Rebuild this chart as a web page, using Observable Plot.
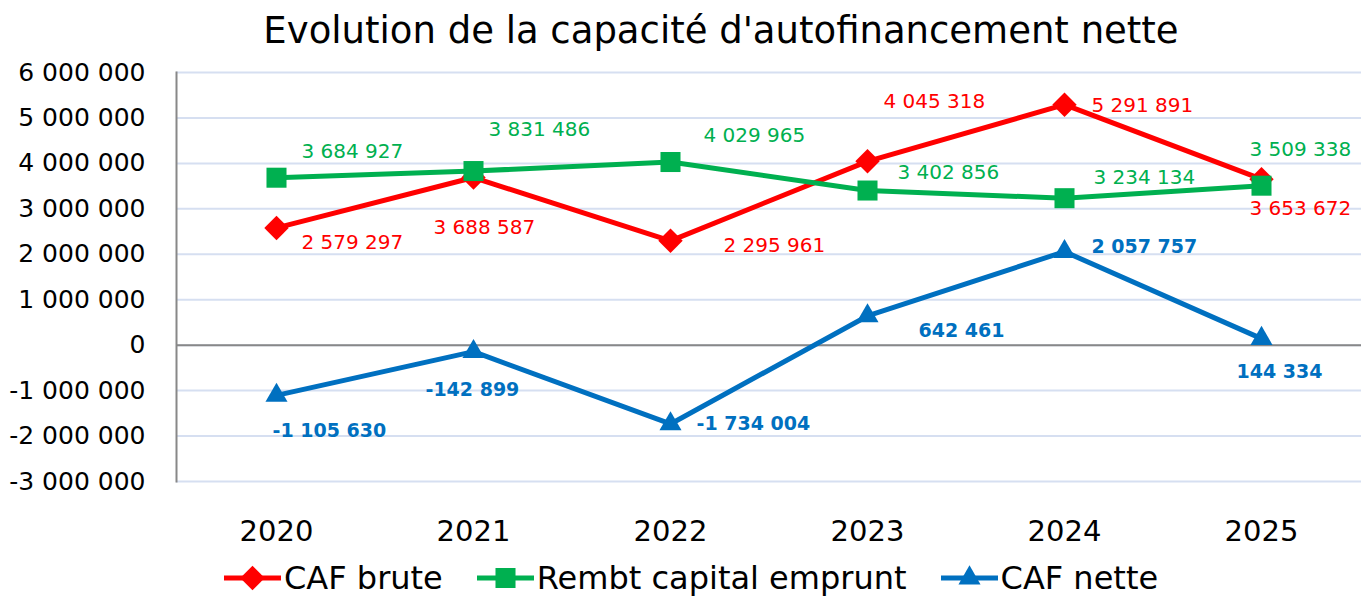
<!DOCTYPE html>
<html>
<head>
<meta charset="utf-8">
<script src="https://cdn.jsdelivr.net/npm/d3@7"></script>
<script src="https://cdn.jsdelivr.net/npm/@observablehq/plot@0.6"></script>
<style>
  body { margin: 0; background: #fff; font-family: "DejaVu Sans", sans-serif; }
  #wrap { position: relative; width: 1361px; height: 597px; overflow: hidden; }
  #title { position: absolute; top: 12px; left: 721px; transform: translateX(-50%); white-space: nowrap;
           font-size: 37px; line-height: 1; color: #000; }
  #chart { position: absolute; top: 0; left: 0; }
  #legend { position: absolute; top: 562px; left: 224px; display: flex; align-items: center;
            font-size: 32px; line-height: 1; color: #000; white-space: nowrap; }
  .item { display: flex; align-items: center; margin-right: 34px; }
  .item svg { display: block; margin-right: 3px; }
</style>
</head>
<body>
<div id="wrap">
  <div id="chart"></div>
  <div id="title">Evolution de la capacité d'autofinancement nette</div>
  <div id="legend"></div>
</div>
<script>
// ---- data ----
const years = ["2020", "2021", "2022", "2023", "2024", "2025"];
const cafBrute = [2579297, 3688587, 2295961, 4045318, 5291891, 3653672];
const rembtCapital = [3684927, 3831486, 4029965, 3402856, 3234134, 3509338];
const cafNette = [-1105630, -142899, -1734004, 642461, 2057757, 144334];
const yTicks = [-3000000, -2000000, -1000000, 0, 1000000, 2000000, 3000000, 4000000, 5000000, 6000000];
const seriesNames = ["CAF brute", "Rembt capital emprunt", "CAF nette"];

// ---- layout / style ----
const colors = ["#ff0000", "#00b050", "#0070c0"];
const symbols = ["diamond2", "square", "triangle"];
const radii = [11, 11.3, 8.2];
const labelWeights = ["normal", "normal", "bold"];
const labelSizes = [20, 20, 19];
// label offsets (dx, dy) from point, text-anchor start
const labelOffsets = [
  [[25, 15], [-40, 50], [53, 5], [16, -60], [27, 1], [-12, 29]],
  [[25, -26], [15, -41], [33, -26], [30, -18], [29, -21], [-12, -36]],
  [[-4, 35], [-48, 38], [26, 0], [51, 15], [27, -5], [-25, 33]]
];

const fmt = d3.formatLocale({decimal: ",", thousands: " ", grouping: [3], currency: ["", ""], minus: "-"}).format(",d");

const seriesValues = [cafBrute, rembtCapital, cafNette];
const seriesData = seriesValues.map((vals, s) => years.map((y, i) => ({year: y, value: vals[i], series: seriesNames[s]})));

const marks = [
  Plot.gridY(yTicks, {stroke: "#d6dff1", strokeOpacity: 1, strokeWidth: 2}),
  Plot.ruleY([0], {stroke: "#888888", strokeWidth: 2}),
  Plot.frame({anchor: "left", stroke: "#888888", strokeWidth: 2}),
  Plot.axisY({ticks: yTicks, tickFormat: fmt, tickSize: 0, tickPadding: 31, fontSize: 25, label: null}),
  Plot.axisX({tickSize: 0, tickPadding: 39, fontSize: 29, label: null})
];

seriesData.forEach((data, s) => {
  marks.push(Plot.line(data, {x: "year", y: "value", stroke: colors[s], strokeWidth: 5, strokeLinejoin: "round"}));
  marks.push(Plot.dot(data, {x: "year", y: "value", symbol: () => symbols[s], fill: colors[s], stroke: "none", r: radii[s]}));
});
seriesData.forEach((data, s) => {
  data.forEach((d, i) => {
    marks.push(Plot.text([d], {
      x: "year", y: "value", text: (d) => fmt(d.value),
      dx: labelOffsets[s][i][0], dy: labelOffsets[s][i][1],
      textAnchor: "start", fill: colors[s], fontSize: labelSizes[s], fontWeight: labelWeights[s],
      fontFamily: "DejaVu Sans"
    }));
  });
});

const chart = Plot.plot({
  width: 1361,
  height: 597,
  marginTop: 72,
  marginBottom: 116,
  marginLeft: 176,
  marginRight: 0,
  style: {fontFamily: "DejaVu Sans", color: "#000", background: "#fff", overflow: "visible"},
  x: {type: "point", domain: years, padding: 0.5},
  y: {domain: [-3000000, 6000000]},
  symbol: {type: "identity"},
  marks
});
document.getElementById("chart").appendChild(chart);

// ---- legend ----
const legend = d3.select("#legend");
seriesNames.forEach((name, s) => {
  const item = legend.append("div").attr("class", "item");
  const svg = item.append("svg").attr("width", 57).attr("height", 26);
  svg.append("line").attr("x1", 0).attr("x2", 57).attr("y1", 13).attr("y2", 13)
    .attr("stroke", colors[s]).attr("stroke-width", 5);
  const symType = [d3.symbolDiamond2, d3.symbolSquare, d3.symbolTriangle][s];
  const size = Math.PI * radii[s] * radii[s];
  svg.append("path").attr("transform", "translate(28.5,13)")
    .attr("d", d3.symbol(symType, size)()).attr("fill", colors[s]);
  item.append("span").text(name);
});
</script>
</body>
</html>
